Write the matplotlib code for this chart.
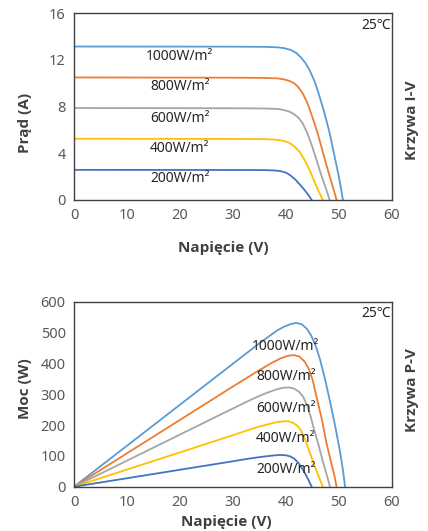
import matplotlib
matplotlib.use('Agg')
import matplotlib.pyplot as plt

plt.rcParams['font.family'] = ['Noto Sans', 'DejaVu Sans']
plt.rcParams['font.stretch'] = 'extra-condensed'

# I-V curves (voltage V, current A)
iv_v_1000 = [0, 30, 36, 38.5, 39.8, 41, 42, 42.9, 43.7, 44.5, 45.5, 46.4, 47.4, 48.3, 49.1, 49.9, 50.4, 50.8]
iv_i_1000 = [13.15, 13.14, 13.12, 13.08, 13.0, 12.85, 12.6, 12.2, 11.75, 11.14, 10.1, 8.85, 7.3, 5.72, 4.0, 2.29, 1.1, 0]
iv_v_800 = [0, 30, 36, 38.5, 39.8, 40.7, 41.6, 42.4, 43.2, 44.1, 45.0, 46.0, 46.9, 47.7, 48.5, 49.1, 49.6]
iv_i_800 = [10.5, 10.48, 10.46, 10.42, 10.32, 10.2, 10.0, 9.65, 9.14, 8.3, 7.14, 5.75, 4.29, 2.95, 1.71, 0.8, 0]
iv_v_600 = [0, 30, 36, 38.5, 39.7, 40.7, 41.5, 42.4, 43.2, 44.1, 45.0, 45.8, 46.6, 47.5, 48.3]
iv_i_600 = [7.88, 7.86, 7.84, 7.8, 7.7, 7.57, 7.37, 7.05, 6.57, 5.7, 4.57, 3.45, 2.29, 1.1, 0]
iv_v_400 = [0, 30, 36, 38, 39.2, 40.1, 40.9, 41.7, 42.6, 43.6, 44.5, 45.3, 46.1, 47.0]
iv_i_400 = [5.25, 5.23, 5.21, 5.17, 5.1, 5.0, 4.83, 4.55, 4.14, 3.4, 2.57, 1.7, 0.86, 0]
iv_v_200 = [0, 30, 36, 37.8, 38.7, 39.4, 40.1, 40.9, 41.9, 42.9, 43.8, 44.4, 44.9]
iv_i_200 = [2.58, 2.57, 2.56, 2.53, 2.49, 2.43, 2.33, 2.1, 1.71, 1.2, 0.71, 0.35, 0]

# P-V curves (voltage V, power W)
pv_v_1000 = [0, 29.5, 35, 37, 38.5, 39.8, 41, 42, 43, 44, 44.8, 45.6, 46.5, 47.4, 48.3, 49.3, 50.2, 50.8, 51.2]
pv_p_1000 = [0, 392, 465, 490, 508, 520, 528, 531, 527, 512, 490, 460, 411, 350, 281, 200, 119, 55, 0]
pv_v_800 = [0, 29.46, 35, 37.5, 39, 40.3, 41.5, 42.6, 43.6, 44.4, 45.1, 45.8, 46.8, 47.7, 48.7, 49.2, 49.6]
pv_p_800 = [0, 319, 378, 403, 416, 424, 427, 422, 405, 380, 345, 292, 220, 141, 70, 35, 0]
pv_v_600 = [0, 29.46, 34, 36.5, 38.3, 39.6, 40.6, 41.6, 42.5, 43.3, 44.1, 44.7, 45.2, 46.2, 47.1, 47.8, 48.35]
pv_p_600 = [0, 249, 287, 305, 316, 321, 322, 318, 308, 292, 260, 228, 195, 135, 76, 35, 0]
pv_v_400 = [0, 29.46, 34, 36.5, 38.2, 39.5, 40.5, 41.5, 42.3, 42.9, 43.6, 44.6, 45.4, 46.3, 47.0]
pv_p_400 = [0, 164, 190, 202, 209, 212, 212, 206, 196, 182, 155, 108, 70, 30, 0]
pv_v_200 = [0, 29.46, 33, 35.5, 37.5, 38.8, 40, 40.9, 41.6, 42.4, 43.3, 44.2, 44.9]
pv_p_200 = [0, 81, 91, 97, 101, 103, 102, 98, 91, 77, 54, 25, 0]

labels = ['1000W/m²', '800W/m²', '600W/m²', '400W/m²', '200W/m²']
colors = ['#5B9BD5', '#ED7D31', '#A5A5A5', '#FFC000', '#4472C4']
iv_label_y = [12.3, 9.7, 7.0, 4.4, 1.8]
pv_label_y = [454, 356, 255, 157, 57]

iv_curves = [(iv_v_1000, iv_i_1000), (iv_v_800, iv_i_800), (iv_v_600, iv_i_600),
             (iv_v_400, iv_i_400), (iv_v_200, iv_i_200)]
pv_curves = [(pv_v_1000, pv_p_1000), (pv_v_800, pv_p_800), (pv_v_600, pv_p_600),
             (pv_v_400, pv_p_400), (pv_v_200, pv_p_200)]

fig = plt.figure(figsize=(4.28, 5.31), dpi=100)
ax1 = fig.add_axes([0.173, 0.6234, 0.742, 0.3516])
ax2 = fig.add_axes([0.173, 0.0834, 0.742, 0.3484])

dark = '#404040'
tick_c = '#595959'
bold = dict(family='Open Sans', fontweight='bold', fontsize=11, color=dark,
            fontstretch='normal')


def style(ax):
    for s in ax.spines.values():
        s.set_color(dark)
        s.set_linewidth(1.0)
    ax.tick_params(length=0, labelsize=10.5, colors=tick_c, pad=6)
    ax.set_xlim(0, 60)
    ax.set_xticks([0, 10, 20, 30, 40, 50, 60])


for (v, i), c in zip(iv_curves, colors):
    ax1.plot(v, i, color=c, lw=1.3)
for lab, y in zip(labels, iv_label_y):
    ax1.text(20, y, lab, ha='center', va='center', fontsize=10, color='#262626')
style(ax1)
ax1.set_ylim(0, 16)
ax1.set_yticks([0, 4, 8, 12, 16])
ax1.text(57, 15.0, '25℃', ha='center', va='center', fontsize=10, color='#262626')
ax1.set_xlabel('Napięcie (V)', va='center', **bold)
ax1.xaxis.set_label_coords(0.469, -0.257)
ax1.set_ylabel('Prąd (A)', va='center', **bold)
ax1.yaxis.set_label_coords(-0.154, 0.41)

for (v, p), c in zip(pv_curves, colors):
    ax2.plot(v, p, color=c, lw=1.3)
for lab, y in zip(labels, pv_label_y):
    ax2.text(40, y, lab, ha='center', va='center', fontsize=10, color='#262626')
style(ax2)
ax2.set_ylim(0, 600)
ax2.set_yticks([0, 100, 200, 300, 400, 500, 600])
ax2.text(57, 562, '25℃', ha='center', va='center', fontsize=10, color='#262626')
ax2.set_xlabel('Napięcie (V)', va='center', **bold)
ax2.xaxis.set_label_coords(0.48, -0.189)
ax2.set_ylabel('Moc (W)', va='center', **bold)
ax2.yaxis.set_label_coords(-0.154, 0.53)

fig.text(412 / 428, 1 - 120 / 531, 'Krzywa I-V', rotation=90, ha='center', va='center', **bold)
fig.text(412 / 428, 1 - 390 / 531, 'Krzywa P-V', rotation=90, ha='center', va='center', **bold)

fig.savefig('out.png', dpi=100)
